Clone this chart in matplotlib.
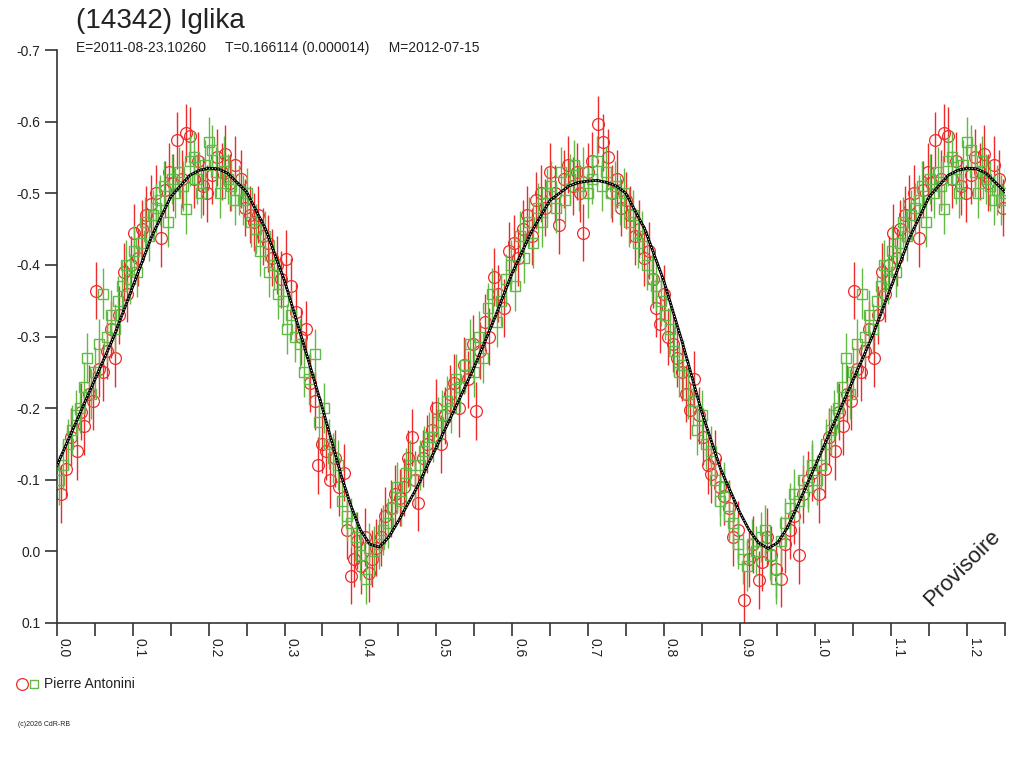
import numpy as np
import matplotlib
matplotlib.use("Agg")
import matplotlib.pyplot as plt

plt.rcParams['font.family'] = ['Liberation Sans', 'DejaVu Sans']

title = "(14342) Iglika"
subtitle = "E=2011-08-23.10260     T=0.166114 (0.000014)     M=2012-07-15"
observer = "Pierre Antonini"
y_ticks = [-0.7, -0.6, -0.5, -0.4, -0.3, -0.2, -0.1, 0.0, 0.1]
x_major = [0.0, 0.1, 0.2, 0.3, 0.4, 0.5, 0.6, 0.7, 0.8, 0.9, 1.0, 1.1, 1.2]

# fitted curve (phase, mag)
fit_phase = [0.000, 0.025, 0.050, 0.075, 0.100, 0.125, 0.150, 0.175, 0.1875, 0.200, 0.2125, 0.225,
             0.250, 0.275, 0.300, 0.325, 0.350, 0.375, 0.3875, 0.400, 0.4125, 0.425, 0.4375, 0.450,
             0.4625, 0.475, 0.500, 0.525, 0.550, 0.575, 0.600, 0.625, 0.650, 0.675, 0.6875, 0.700,
             0.7125, 0.725, 0.7375, 0.750, 0.775, 0.800, 0.825, 0.850, 0.875, 0.900, 0.9125, 0.925,
             0.9375, 0.950, 0.9625, 0.975, 0.9875, 1.000]
fit_mag = [-0.120, -0.180, -0.240, -0.300, -0.370, -0.440, -0.495, -0.525, -0.532, -0.535, -0.534, -0.528,
           -0.502, -0.450, -0.378, -0.290, -0.200, -0.105, -0.064, -0.030, -0.010, -0.006, -0.020, -0.042,
           -0.066, -0.090, -0.145, -0.200, -0.257, -0.320, -0.388, -0.445, -0.490, -0.510, -0.515, -0.517,
           -0.518, -0.515, -0.510, -0.500, -0.450, -0.378, -0.290, -0.195, -0.115, -0.055, -0.030, -0.012,
           -0.004, -0.012, -0.032, -0.060, -0.090, -0.120]

# red series (circles)
red_phase = [0.005, 0.012, 0.018, 0.026, 0.031, 0.036, 0.042, 0.047, 0.051, 0.055,
             0.060, 0.066, 0.071, 0.077, 0.082, 0.088, 0.092, 0.097, 0.102, 0.107,
             0.112, 0.118, 0.124, 0.130, 0.137, 0.142, 0.148, 0.153, 0.158, 0.165,
             0.170, 0.175, 0.180, 0.186, 0.192, 0.198, 0.205, 0.211, 0.217, 0.222,
             0.228, 0.235, 0.242, 0.248, 0.255, 0.260, 0.265, 0.272, 0.278, 0.284,
             0.290, 0.296, 0.302, 0.309, 0.315, 0.322, 0.328, 0.334, 0.340, 0.344,
             0.349, 0.355, 0.360, 0.366, 0.372, 0.378, 0.383, 0.387, 0.391, 0.396,
             0.401, 0.406, 0.411, 0.416, 0.421, 0.427, 0.433, 0.440, 0.446, 0.452,
             0.458, 0.463, 0.468, 0.472, 0.476, 0.482, 0.488, 0.494, 0.500, 0.506,
             0.512, 0.518, 0.524, 0.530, 0.536, 0.542, 0.548, 0.553, 0.558, 0.564,
             0.570, 0.576, 0.582, 0.590, 0.596, 0.602, 0.608, 0.615, 0.620, 0.626,
             0.632, 0.638, 0.644, 0.650, 0.656, 0.662, 0.668, 0.674, 0.680, 0.686,
             0.690, 0.694, 0.700, 0.706, 0.714, 0.720, 0.726, 0.732, 0.738, 0.744,
             0.750, 0.756, 0.762, 0.768, 0.774, 0.780, 0.786, 0.790, 0.795, 0.800,
             0.806, 0.812, 0.818, 0.824, 0.830, 0.835, 0.840, 0.846, 0.852, 0.858,
             0.862, 0.868, 0.874, 0.880, 0.886, 0.892, 0.898, 0.906, 0.912, 0.918,
             0.925, 0.930, 0.936, 0.942, 0.948, 0.955, 0.960, 0.966, 0.972, 0.978,
             0.984, 0.990, 0.995]
red_mag = [-0.080, -0.115, -0.160, -0.140, -0.195, -0.175, -0.220, -0.210, -0.364, -0.255,
           -0.250, -0.280, -0.310, -0.270, -0.330, -0.390, -0.360, -0.400, -0.445, -0.410,
           -0.450, -0.470, -0.485, -0.500, -0.437, -0.505, -0.530, -0.515, -0.574, -0.520,
           -0.584, -0.580, -0.520, -0.545, -0.510, -0.500, -0.525, -0.550, -0.530, -0.555,
           -0.515, -0.540, -0.520, -0.480, -0.470, -0.460, -0.470, -0.440, -0.430, -0.410,
           -0.400, -0.380, -0.408, -0.370, -0.334, -0.300, -0.310, -0.235, -0.210, -0.120,
           -0.150, -0.140, -0.100, -0.130, -0.090, -0.110, -0.030, 0.034, 0.010, -0.015,
           0.020, -0.020, 0.030, 0.010, -0.005, -0.020, -0.050, -0.060, -0.080, -0.075,
           -0.090, -0.130, -0.159, -0.100, -0.068, -0.130, -0.150, -0.170, -0.200, -0.150,
           -0.190, -0.220, -0.235, -0.200, -0.260, -0.240, -0.290, -0.196, -0.280, -0.320,
           -0.300, -0.383, -0.360, -0.340, -0.420, -0.430, -0.410, -0.450, -0.470, -0.440,
           -0.490, -0.500, -0.480, -0.530, -0.500, -0.455, -0.520, -0.540, -0.510, -0.530,
           -0.500, -0.445, -0.530, -0.545, -0.596, -0.571, -0.550, -0.500, -0.520, -0.480,
           -0.490, -0.470, -0.440, -0.450, -0.410, -0.420, -0.380, -0.340, -0.317, -0.360,
           -0.300, -0.290, -0.270, -0.250, -0.220, -0.197, -0.240, -0.190, -0.160, -0.120,
           -0.108, -0.130, -0.090, -0.077, -0.060, -0.020, -0.030, 0.068, 0.010, -0.010,
           0.040, 0.015, -0.020, 0.005, 0.025, 0.038, -0.010, -0.030, -0.050, 0.005,
           -0.080, -0.100, -0.110]
red_err = 0.04

# green series (squares)
green_phase = [0.002, 0.008, 0.014, 0.020, 0.025, 0.030, 0.035, 0.040, 0.045, 0.050,
               0.055, 0.061, 0.066, 0.071, 0.076, 0.081, 0.086, 0.091, 0.096, 0.101,
               0.106, 0.111, 0.116, 0.121, 0.126, 0.131, 0.136, 0.141, 0.146, 0.151,
               0.156, 0.161, 0.166, 0.170, 0.175, 0.180, 0.185, 0.190, 0.195, 0.200,
               0.205, 0.210, 0.215, 0.220, 0.225, 0.230, 0.235, 0.240, 0.245, 0.250,
               0.256, 0.262, 0.268, 0.274, 0.280, 0.286, 0.292, 0.298, 0.303, 0.308,
               0.314, 0.320, 0.326, 0.332, 0.340, 0.346, 0.352, 0.358, 0.364, 0.370,
               0.376, 0.382, 0.388, 0.394, 0.400, 0.407, 0.412, 0.418, 0.424, 0.430,
               0.436, 0.442, 0.448, 0.454, 0.460, 0.466, 0.472, 0.478, 0.484, 0.490,
               0.496, 0.502, 0.508, 0.514, 0.520, 0.526, 0.532, 0.538, 0.544, 0.550,
               0.556, 0.562, 0.568, 0.574, 0.580, 0.586, 0.592, 0.598, 0.604, 0.610,
               0.616, 0.622, 0.628, 0.634, 0.640, 0.646, 0.652, 0.658, 0.664, 0.670,
               0.676, 0.682, 0.688, 0.694, 0.700, 0.706, 0.712, 0.718, 0.724, 0.730,
               0.736, 0.742, 0.748, 0.754, 0.760, 0.766, 0.772, 0.778, 0.784, 0.790,
               0.796, 0.802, 0.808, 0.814, 0.820, 0.826, 0.832, 0.838, 0.844, 0.850,
               0.856, 0.862, 0.868, 0.874, 0.880, 0.886, 0.892, 0.898, 0.904, 0.910,
               0.916, 0.922, 0.928, 0.934, 0.940, 0.948, 0.954, 0.960, 0.966, 0.972,
               0.978, 0.984, 0.990, 0.996]
green_mag = [-0.100, -0.120, -0.150, -0.170, -0.190, -0.200, -0.230, -0.270, -0.220, -0.250,
             -0.290, -0.360, -0.300, -0.330, -0.310, -0.350, -0.370, -0.400, -0.380, -0.420,
             -0.390, -0.430, -0.460, -0.440, -0.470, -0.480, -0.490, -0.510, -0.460, -0.520,
             -0.500, -0.530, -0.510, -0.478, -0.545, -0.550, -0.520, -0.500, -0.540, -0.571,
             -0.560, -0.530, -0.500, -0.545, -0.520, -0.510, -0.490, -0.505, -0.490, -0.500,
             -0.460, -0.450, -0.420, -0.440, -0.390, -0.400, -0.360, -0.350, -0.311, -0.330,
             -0.300, -0.290, -0.250, -0.240, -0.275, -0.180, -0.200, -0.150, -0.130, -0.120,
             -0.070, -0.050, -0.040, -0.020, 0.005, 0.038, -0.005, 0.000, -0.010, -0.030,
             -0.040, -0.060, -0.090, -0.070, -0.110, -0.120, -0.100, -0.120, -0.140, -0.160,
             -0.160, -0.180, -0.190, -0.210, -0.200, -0.240, -0.230, -0.260, -0.290, -0.250,
             -0.300, -0.270, -0.340, -0.360, -0.320, -0.350, -0.380, -0.400, -0.370, -0.440,
             -0.410, -0.460, -0.430, -0.480, -0.460, -0.500, -0.510, -0.480, -0.530, -0.490,
             -0.520, -0.540, -0.510, -0.530, -0.500, -0.520, -0.545, -0.510, -0.530, -0.500,
             -0.510, -0.490, -0.500, -0.460, -0.470, -0.430, -0.440, -0.400, -0.380, -0.370,
             -0.350, -0.330, -0.310, -0.280, -0.250, -0.260, -0.220, -0.210, -0.170, -0.190,
             -0.150, -0.140, -0.100, -0.070, -0.090, -0.050, -0.040, -0.010, 0.010, 0.020,
             -0.010, 0.000, -0.020, -0.030, 0.005, 0.038, -0.015, -0.040, -0.060, -0.080,
             -0.070, -0.100, -0.090, -0.120]
green_err = 0.035

RED = '#ee2b2b'
GREEN = '#62b946'
TXT = '#222222'

fig = plt.figure(figsize=(10.24, 7.68), dpi=100)
ax = fig.add_axes([57/1024, 145/768, 948/1024, 573/768])


def extended(ph, mg, upto=0.25):
    ph = np.asarray(ph); mg = np.asarray(mg)
    sel = ph <= upto
    return np.concatenate([ph, ph[sel] + 1.0]), np.concatenate([mg, mg[sel]])


rp, rm = extended(red_phase, red_mag)
gp, gm = extended(green_phase, green_mag)

ax.errorbar(rp, rm, yerr=red_err, fmt='o', mfc='none', mec=RED, ecolor=RED,
            ms=8.5, mew=0.9, elinewidth=1.0, capsize=0, zorder=2)
ax.errorbar(gp, gm, yerr=green_err, fmt='s', mfc='none', mec=GREEN, ecolor=GREEN,
            ms=7, mew=1.0, elinewidth=1.0, capsize=0, zorder=3)

fp = np.asarray(fit_phase); fm = np.asarray(fit_mag)
fpx = np.concatenate([fp, fp[fp <= 0.25][1:] + 1.0])
fmx = np.concatenate([fm, fm[fp <= 0.25][1:]])
ax.plot(fpx, fmx, color='black', lw=2.0, zorder=4, solid_joinstyle='round')
ax.plot(fpx, fmx, color='white', lw=0.7, ls=(0, (1, 2)), zorder=5)

ax.set_xlim(0, 1.25)
ax.set_ylim(0.1, -0.7)
ax.set_yticks(y_ticks)
ax.set_yticklabels([f"{v:.1f}" if v != 0 else "0.0" for v in y_ticks])
ax.set_xticks(x_major)
ax.set_xticklabels([f"{v:.1f}" for v in x_major], rotation=270)
ax.set_xticks(np.arange(0, 1.26, 0.05), minor=True)
ax.tick_params(axis='x', which='both', direction='out', length=9, width=1.2,
               colors='#333333', labelsize=10, labelcolor=TXT, pad=2)
ax.tick_params(axis='y', which='both', direction='out', length=9, width=1.2,
               colors='#333333', labelsize=10, labelcolor=TXT, pad=3)
for lbl in ax.get_xticklabels():
    lbl.set_horizontalalignment('left')
for s in ['top', 'right']:
    ax.spines[s].set_visible(False)
for s in ['left', 'bottom']:
    ax.spines[s].set_color('#333333')
    ax.spines[s].set_linewidth(1.2)

fig.text(76/1024, 1 - 21/768, title, fontsize=20, color=TXT, va='center', ha='left')
fig.text(76/1024, 1 - 48/768, subtitle, fontsize=10, color=TXT, va='center', ha='left')
ax.text(0.955, 0.095, "Provisoire", transform=ax.transAxes, rotation=45,
        fontsize=16, color=TXT, ha='center', va='center')

fig.lines.append(plt.Line2D([22/1024], [1 - 684/768], marker='o', mfc='none', mec=RED,
                            ms=8.5, mew=0.9, transform=fig.transFigure, ls='none'))
fig.lines.append(plt.Line2D([34/1024], [1 - 684/768], marker='s', mfc='none', mec=GREEN,
                            ms=6, mew=1.0, transform=fig.transFigure, ls='none'))
fig.text(44/1024, 1 - 684/768, observer, fontsize=10, color=TXT, va='center', ha='left')
fig.text(18/1024, 1 - 725/768, "(c)2026 CdR-RB", fontsize=5, color=TXT, va='center', ha='left')

fig.savefig('out.png', dpi=100)
